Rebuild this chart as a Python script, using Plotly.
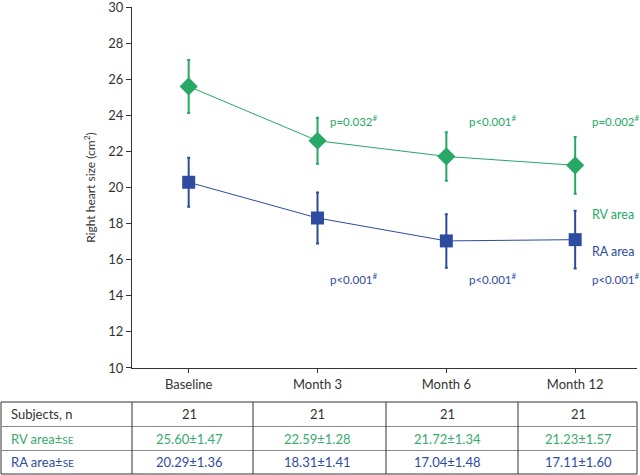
import plotly.graph_objects as go

categories = ["Baseline", "Month 3", "Month 6", "Month 12"]
rv_mean = [25.60, 22.59, 21.72, 21.23]
rv_se = [1.47, 1.28, 1.34, 1.57]
ra_mean = [20.29, 18.31, 17.04, 17.11]
ra_se = [1.36, 1.41, 1.48, 1.60]
subjects = [21, 21, 21, 21]
rv_p = ["", "p=0.032", "p<0.001", "p=0.002"]
ra_p = ["", "p<0.001", "p<0.001", "p<0.001"]

GREEN = "#27a865"
BLUE = "#2e4c9f"
DARK = "#333333"
FONT = "Lato"

W, H = 640, 475
L, R, T, B = 132, 3, 7, 107
PW = W - L - R
PH = H - T - B


def px_x(px):
    return (px - L) / PW


def px_y(py):
    return (H - B - py) / PH


fig = go.Figure()
fig.add_trace(go.Scatter(
    x=categories, y=rv_mean, mode="lines+markers",
    line=dict(color=GREEN, width=1),
    marker=dict(symbol="diamond", size=14, color=GREEN),
    error_y=dict(type="data", array=rv_se, visible=True, color=GREEN,
                 thickness=2, width=1.5),
    showlegend=False, cliponaxis=False,
))
fig.add_trace(go.Scatter(
    x=categories, y=ra_mean, mode="lines+markers",
    line=dict(color=BLUE, width=1),
    marker=dict(symbol="square", size=13, color=BLUE),
    error_y=dict(type="data", array=ra_se, visible=True, color=BLUE,
                 thickness=2, width=1.5),
    showlegend=False, cliponaxis=False,
))

ann = []
p_x = [None, 328, 467, 590]
sup = "<sup><span style='font-size:8px'>#</span></sup>"
for i in range(1, 4):
    ann.append(dict(text=rv_p[i] + sup, x=px_x(p_x[i]), y=px_y(120),
                    xref="paper", yref="paper", xanchor="left", yanchor="middle",
                    showarrow=False, font=dict(color=GREEN, size=11.5, family=FONT)))
    ann.append(dict(text=ra_p[i] + sup, x=px_x(p_x[i]), y=px_y(278),
                    xref="paper", yref="paper", xanchor="left", yanchor="middle",
                    showarrow=False, font=dict(color=BLUE, size=11.5, family=FONT)))
ann.append(dict(text="RV area", x=px_x(590), y=px_y(214), xref="paper", yref="paper",
                xanchor="left", yanchor="middle", showarrow=False,
                font=dict(color=GREEN, size=12.5, family=FONT)))
ann.append(dict(text="RA area", x=px_x(590), y=px_y(252), xref="paper", yref="paper",
                xanchor="left", yanchor="middle", showarrow=False,
                font=dict(color=BLUE, size=12.5, family=FONT)))

# table
row_tops = [402, 426.5, 450.5, 474]
col_edges = [1, 132, 253, 386, 518, 637]
shapes = []
shapes.append(dict(type="rect", xref="paper", yref="paper",
                   x0=px_x(col_edges[0]), x1=px_x(col_edges[-1]),
                   y0=px_y(row_tops[0]), y1=px_y(row_tops[-1]),
                   line=dict(color=DARK, width=1)))
for yy in row_tops[1:-1]:
    shapes.append(dict(type="line", xref="paper", yref="paper",
                       x0=px_x(col_edges[0]), x1=px_x(col_edges[-1]),
                       y0=px_y(yy), y1=px_y(yy), line=dict(color="#8a8a8a", width=1)))
for xx in col_edges[1:-1]:
    shapes.append(dict(type="line", xref="paper", yref="paper",
                       x0=px_x(xx), x1=px_x(xx),
                       y0=px_y(row_tops[0]), y1=px_y(row_tops[-1]),
                       line=dict(color=DARK, width=1)))

row_labels = ["Subjects, n",
              "RV area±<span style='font-size:10px'>SE</span>",
              "RA area±<span style='font-size:10px'>SE</span>"]
row_colors = [DARK, "#3aaa70", BLUE]
row_vals = [[str(s) for s in subjects],
            [f"{m:.2f}±{s:.2f}" for m, s in zip(rv_mean, rv_se)],
            [f"{m:.2f}±{s:.2f}" for m, s in zip(ra_mean, ra_se)]]
col_centers = [189, 317, 447, 578]
for r in range(3):
    yc = (row_tops[r] + row_tops[r + 1]) / 2
    ann.append(dict(text=row_labels[r], x=px_x(9), y=px_y(yc), xref="paper", yref="paper",
                    xanchor="left", yanchor="middle", showarrow=False,
                    font=dict(color=row_colors[r], size=13, family=FONT)))
    for c in range(4):
        ann.append(dict(text=row_vals[r][c], x=px_x(col_centers[c]), y=px_y(yc),
                        xref="paper", yref="paper", xanchor="center", yanchor="middle",
                        showarrow=False,
                        font=dict(color=row_colors[r], size=13, family=FONT)))

fig.update_layout(
    width=W, height=H,
    margin=dict(l=L, r=R, t=T, b=B, autoexpand=False),
    paper_bgcolor="white", plot_bgcolor="white",
    font=dict(family=FONT, size=12, color=DARK),
    xaxis=dict(type="category", range=[-0.44, 3.48], showgrid=False,
               showline=True, linecolor=DARK, linewidth=1, automargin=False,
               ticks="outside", ticklen=4, tickcolor=DARK,
               tickfont=dict(size=13, color=DARK, family=FONT)),
    yaxis=dict(range=[9.999, 30.001], tickmode="linear", tick0=10, dtick=2,
               showgrid=False, zeroline=False, ticklabeloverflow="allow",
               showline=True, linecolor=DARK, linewidth=1, automargin=False,
               ticks="outside", ticklen=5, tickcolor=DARK,
               tickfont=dict(size=13, color=DARK, family=FONT),
               title=dict(text="Right heart size (cm<sup>2</sup>)",
                          font=dict(size=12, color=DARK, family=FONT), standoff=10)),
    annotations=ann, shapes=shapes,
)

fig.write_html("out.html", config={"displayModeBar": False},
               post_script="document.body.style.margin='0';document.body.style.overflow='hidden';")
